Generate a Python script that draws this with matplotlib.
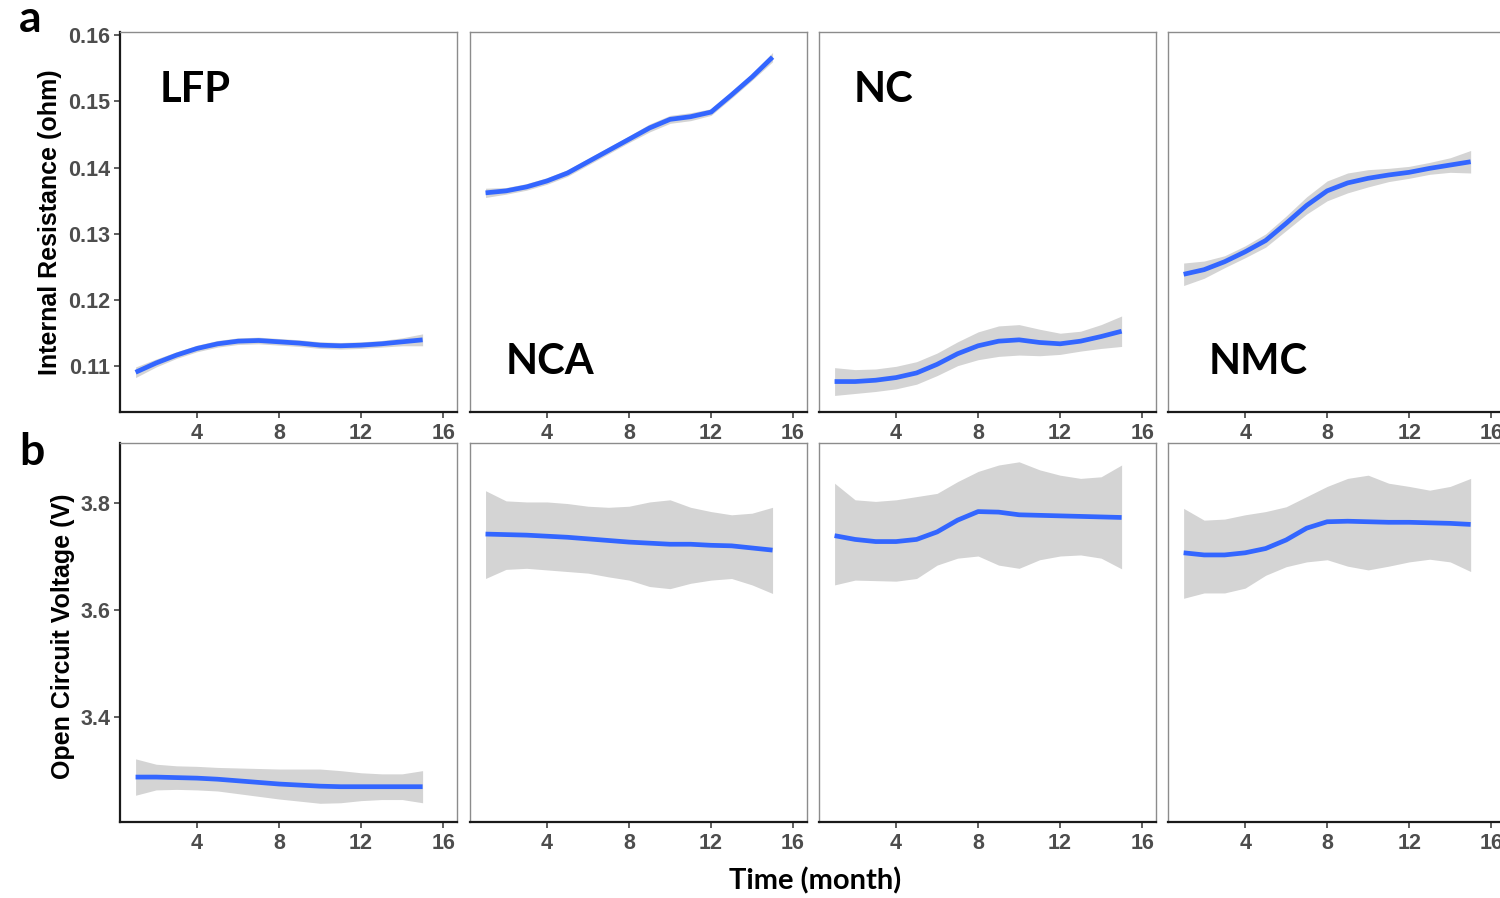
import numpy as np
import matplotlib
matplotlib.use('Agg')
import matplotlib.pyplot as plt

plt.rcParams['font.family'] = ['Liberation Sans', 'DejaVu Sans']

# months at which the smoothed fits are drawn
months = list(range(1, 16))
chemistries = ['LFP', 'NCA', 'NC', 'NMC']

# internal resistance (ohm): fitted mean and confidence band
ir_mean = {
    'LFP': [0.1091, 0.1105, 0.1117, 0.1127, 0.1134, 0.1138, 0.1139, 0.1137, 0.1135, 0.1132, 0.1131, 0.1132, 0.1134, 0.1137, 0.1140],
    'NCA': [0.1362, 0.1365, 0.1371, 0.1380, 0.1392, 0.1409, 0.1426, 0.1443, 0.1460, 0.1473, 0.1477, 0.1484, 0.1510, 0.1537, 0.1567],
    'NC':  [0.1077, 0.1077, 0.1079, 0.1083, 0.1090, 0.1103, 0.1119, 0.1131, 0.1138, 0.1140, 0.1136, 0.1134, 0.1138, 0.1145, 0.1153],
    'NMC': [0.1239, 0.1246, 0.1258, 0.1273, 0.1290, 0.1316, 0.1343, 0.1365, 0.1377, 0.1384, 0.1389, 0.1393, 0.1399, 0.1404, 0.1409],
}
ir_lower = {
    'LFP': [0.1083, 0.1099, 0.1112, 0.1122, 0.1129, 0.1133, 0.1134, 0.1132, 0.1130, 0.1127, 0.1126, 0.1127, 0.1129, 0.1131, 0.1131],
    'NCA': [0.1355, 0.1360, 0.1366, 0.1375, 0.1387, 0.1404, 0.1421, 0.1438, 0.1454, 0.1467, 0.1471, 0.1479, 0.1505, 0.1532, 0.1560],
    'NC':  [0.1056, 0.1059, 0.1062, 0.1066, 0.1073, 0.1086, 0.1101, 0.1110, 0.1115, 0.1117, 0.1116, 0.1118, 0.1123, 0.1127, 0.1130],
    'NMC': [0.1222, 0.1233, 0.1249, 0.1264, 0.1280, 0.1305, 0.1330, 0.1350, 0.1362, 0.1371, 0.1379, 0.1384, 0.1390, 0.1393, 0.1392],
}
ir_upper = {
    'LFP': [0.1099, 0.1111, 0.1122, 0.1132, 0.1139, 0.1143, 0.1144, 0.1142, 0.1140, 0.1137, 0.1136, 0.1137, 0.1139, 0.1143, 0.1149],
    'NCA': [0.1369, 0.1370, 0.1376, 0.1385, 0.1397, 0.1414, 0.1431, 0.1448, 0.1466, 0.1479, 0.1483, 0.1489, 0.1515, 0.1542, 0.1574],
    'NC':  [0.1098, 0.1095, 0.1096, 0.1100, 0.1107, 0.1120, 0.1137, 0.1152, 0.1161, 0.1163, 0.1156, 0.1150, 0.1153, 0.1163, 0.1176],
    'NMC': [0.1256, 0.1259, 0.1267, 0.1282, 0.1300, 0.1327, 0.1356, 0.1380, 0.1392, 0.1397, 0.1399, 0.1402, 0.1408, 0.1415, 0.1426],
}

# open circuit voltage (V): fitted mean and confidence band
ocv_mean = {
    'LFP': [3.288, 3.288, 3.287, 3.286, 3.284, 3.281, 3.278, 3.275, 3.273, 3.271, 3.270, 3.270, 3.270, 3.270, 3.270],
    'NCA': [3.742, 3.741, 3.740, 3.738, 3.736, 3.733, 3.730, 3.727, 3.725, 3.723, 3.723, 3.721, 3.720, 3.716, 3.712],
    'NC':  [3.739, 3.732, 3.728, 3.728, 3.732, 3.746, 3.768, 3.784, 3.783, 3.778, 3.777, 3.776, 3.775, 3.774, 3.773],
    'NMC': [3.707, 3.703, 3.703, 3.707, 3.715, 3.731, 3.753, 3.765, 3.766, 3.765, 3.764, 3.764, 3.763, 3.762, 3.760],
}
ocv_lower = {
    'LFP': [3.254, 3.264, 3.265, 3.264, 3.262, 3.257, 3.252, 3.247, 3.243, 3.239, 3.240, 3.244, 3.246, 3.246, 3.240],
    'NCA': [3.659, 3.676, 3.678, 3.675, 3.672, 3.669, 3.662, 3.656, 3.644, 3.640, 3.650, 3.656, 3.659, 3.647, 3.631],
    'NC':  [3.647, 3.656, 3.655, 3.654, 3.659, 3.684, 3.697, 3.701, 3.684, 3.678, 3.694, 3.701, 3.703, 3.697, 3.677],
    'NMC': [3.622, 3.632, 3.632, 3.641, 3.665, 3.681, 3.690, 3.694, 3.682, 3.675, 3.682, 3.690, 3.695, 3.690, 3.672],
}
ocv_upper = {
    'LFP': [3.322, 3.312, 3.309, 3.308, 3.306, 3.305, 3.304, 3.303, 3.303, 3.303, 3.300, 3.296, 3.294, 3.294, 3.300],
    'NCA': [3.823, 3.804, 3.802, 3.802, 3.799, 3.794, 3.792, 3.794, 3.802, 3.806, 3.792, 3.784, 3.778, 3.781, 3.792],
    'NC':  [3.837, 3.806, 3.803, 3.806, 3.812, 3.818, 3.840, 3.859, 3.871, 3.877, 3.862, 3.852, 3.846, 3.849, 3.871],
    'NMC': [3.790, 3.768, 3.770, 3.778, 3.784, 3.793, 3.812, 3.831, 3.846, 3.852, 3.837, 3.831, 3.824, 3.831, 3.846],
}

x_ticks = [4, 8, 12, 16]
ir_ticks = [0.11, 0.12, 0.13, 0.14, 0.15, 0.16]
ocv_ticks = [3.4, 3.6, 3.8]

LINE_BLUE = '#3366FF'
BAND_GREY = '#D4D4D4'
TICK_GREY = '#4D4D4D'
LABEL_FONT = ['Lato', 'DejaVu Sans']

fig = plt.figure(figsize=(15, 8.98), dpi=100)

col_left = [0.080, 0.3133, 0.546, 0.7787]
col_w = 0.2247
row_a = (0.5412, 0.4232)
row_b = (0.0846, 0.4220)

# where each chemistry name sits inside its top panel
name_pos = {'LFP': (0.223, 0.847), 'NCA': (0.237, 0.132),
            'NC': (0.19, 0.847), 'NMC': (0.267, 0.132)}


def style_axes(ax, first):
    for side in ['top', 'right']:
        ax.spines[side].set_color('#8C8C8C')
        ax.spines[side].set_linewidth(1.0)
    ax.spines['bottom'].set_color('#1A1A1A')
    ax.spines['bottom'].set_linewidth(1.6)
    if first:
        ax.spines['left'].set_color('#1A1A1A')
        ax.spines['left'].set_linewidth(1.6)
    else:
        ax.spines['left'].set_color('#8C8C8C')
        ax.spines['left'].set_linewidth(1.0)
        ax.tick_params(axis='y', left=False, labelleft=False)
    ax.tick_params(direction='out', length=4, width=1.1, color='#333333',
                   labelcolor=TICK_GREY, labelsize=15.5)
    ax.tick_params(axis='x', pad=4)
    ax.tick_params(axis='y', pad=3)
    ax.set_xlim(0.24, 16.68)
    ax.set_xticks(x_ticks)
    ax.set_xticklabels([str(t) for t in x_ticks], fontweight='bold')


for i, chem in enumerate(chemistries):
    # internal resistance row
    ax = fig.add_axes([col_left[i], row_a[0], col_w, row_a[1]])
    ax.fill_between(months, ir_lower[chem], ir_upper[chem], color=BAND_GREY, lw=0)
    ax.plot(months, ir_mean[chem], color=LINE_BLUE, lw=3.4,
            solid_capstyle='butt', solid_joinstyle='round')
    ax.set_ylim(0.1031, 0.1605)
    ax.set_yticks(ir_ticks)
    ax.set_yticklabels(['%.2f' % t for t in ir_ticks], fontweight='bold')
    style_axes(ax, i == 0)
    ax.text(name_pos[chem][0], name_pos[chem][1], chem, transform=ax.transAxes,
            ha='center', va='center', fontsize=30, fontweight='bold', family=LABEL_FONT)

    # open circuit voltage row
    ax = fig.add_axes([col_left[i], row_b[0], col_w, row_b[1]])
    ax.fill_between(months, ocv_lower[chem], ocv_upper[chem], color=BAND_GREY, lw=0)
    ax.plot(months, ocv_mean[chem], color=LINE_BLUE, lw=3.4,
            solid_capstyle='butt', solid_joinstyle='round')
    ax.set_ylim(3.204, 3.912)
    ax.set_yticks(ocv_ticks)
    ax.set_yticklabels(['%.1f' % t for t in ocv_ticks], fontweight='bold')
    style_axes(ax, i == 0)

# shared labels
fig.text(50 / 1500, 1 - 222 / 898, 'Internal Resistance (ohm)', rotation=90,
         ha='center', va='center', fontsize=18, fontweight='bold')
fig.text(63 / 1500, 1 - 636 / 898, 'Open Circuit Voltage (V)', rotation=90,
         ha='center', va='center', fontsize=18, fontweight='bold')
fig.text(815 / 1500, 1 - 881 / 898, 'Time (month)', ha='center', va='center',
         fontsize=21, fontweight='bold', family=LABEL_FONT)

# panel letters
fig.text(30 / 1500, 1 - 19 / 898, 'a', ha='center', va='center',
         fontsize=32, fontweight='bold', family=LABEL_FONT)
fig.text(32 / 1500, 1 - 452 / 898, 'b', ha='center', va='center',
         fontsize=32, fontweight='bold', family=LABEL_FONT)

fig.savefig('out.png', dpi=100, facecolor='white')
